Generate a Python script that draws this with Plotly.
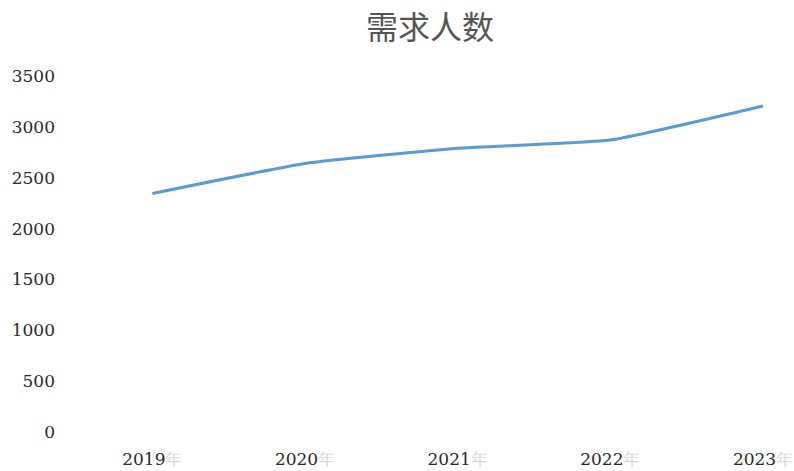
import plotly.graph_objects as go

years = ["2019", "2020", "2021", "2022", "2023"]
year_suffix = "年"
values = [2345, 2640, 2790, 2870, 3205]
y_ticks = [0, 500, 1000, 1500, 2000, 2500, 3000, 3500]

x_idx = list(range(len(years)))
ticktext = [f"{y}<span style='color:#d8d8d8'>{year_suffix}</span>" for y in years]

fig = go.Figure()
fig.add_trace(go.Scatter(
    x=x_idx, y=values, mode="lines",
    line=dict(color="#5B9BD5", width=3, shape="spline", smoothing=0.4),
    hoverinfo="skip", showlegend=False,
))

tick_font = dict(family="DejaVu Serif", size=17, color="#2a2a2a")

fig.update_layout(
    width=794, height=471,
    margin=dict(l=76, r=0, t=76, b=39, autoexpand=False),
    paper_bgcolor="white", plot_bgcolor="white",
    title=dict(text="需求人数", x=430/794, xref="container", xanchor="center",
               y=1 - 28/471, yref="container", yanchor="middle",
               font=dict(family="Noto Sans CJK SC", size=32, color="#555555")),
    xaxis=dict(range=[-0.5, 4 + 31/152.8], tickmode="array", tickvals=x_idx, ticktext=ticktext,
               showgrid=False, zeroline=False, showline=False, ticks="", automargin=False,
               tickfont=tick_font, ticklabelstandoff=15),
    yaxis=dict(range=[0, 3500], tickmode="array", tickvals=y_ticks, automargin=False,
               showgrid=False, zeroline=False, showline=False, ticks="",
               tickfont=tick_font, ticklabelstandoff=20),
)

fig.write_html("out.html", config={"displayModeBar": False},
               post_script="document.body.style.margin='0';")
